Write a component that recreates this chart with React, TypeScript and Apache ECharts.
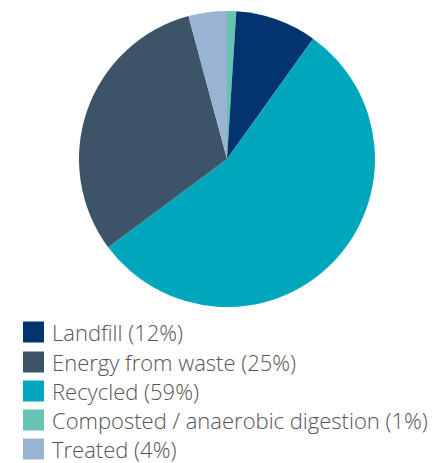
import React, { useEffect, useRef } from "react";
import * as echarts from "echarts";

const categories = ["Landfill", "Energy from waste", "Recycled", "Composted / anaerobic digestion", "Treated"];
const labelPercents = [12, 25, 59, 1, 4];
const sliceValues = [8.9, 31, 55, 1, 4.2];
const colors = ["#04346f", "#3d5367", "#00a7bc", "#68c4b2", "#99b3d3"];
const pieOrder = [3, 0, 2, 1, 4];
const legendTops = [321, 351, 380, 409, 438];

export default function App() {
  const ref = useRef<HTMLDivElement>(null);
  useEffect(() => {
    document.body.style.margin = "0";
    const chart = echarts.init(ref.current!, null, { renderer: "svg" });
    const names = categories.map((c, i) => `${c} (${labelPercents[i]}%)`);
    const data = pieOrder.map((i) => ({
      name: names[i],
      value: sliceValues[i],
      itemStyle: { color: colors[i] },
    }));
    chart.setOption({
      animation: false,
      legend: names.map((n, i) => ({
        data: [n],
        left: 23,
        top: legendTops[i],
        orient: "vertical",
        icon: "rect",
        itemWidth: 21,
        itemHeight: 21,
        selectedMode: false,
        padding: 0,
        textStyle: {
          fontFamily: "Open Sans",
          fontWeight: 300,
          fontSize: 22,
          color: "#555555",
          lineHeight: 21,
          padding: [1, 0, 0, 3],
        },
      })),
      series: [
        {
          type: "pie",
          center: [227, 159],
          radius: 148,
          startAngle: 90,
          clockwise: true,
          label: { show: false },
          labelLine: { show: false },
          silent: true,
          data,
        },
      ],
    });
    return () => chart.dispose();
  }, []);
  return <div ref={ref} style={{ position: "absolute", left: 0, top: 0, width: 437, height: 463 }} />;
}
